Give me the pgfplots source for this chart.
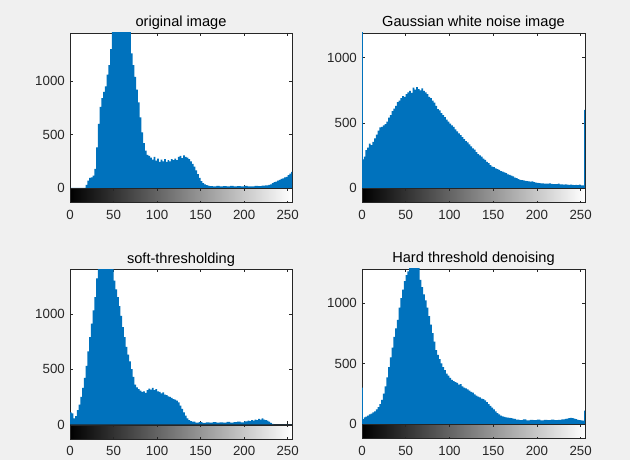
\documentclass[border=0pt]{standalone}
\usepackage{fontspec}
\setmainfont{Liberation Sans}
\usepackage{pgfplots}
\pgfplotsset{compat=1.18}
\usetikzlibrary{calc}

\definecolor{figbg}{RGB}{240,240,240}
\definecolor{histblue}{RGB}{0,114,189}
\definecolor{axgray}{RGB}{38,38,38}

\pgfplotsset{
  histax/.style={
    scale only axis, height=155pt,
    xmin=0, xmax=255, ymin=0,
    axis background/.style={fill=white},
    axis line style={axgray, line width=0.6pt},
    every tick/.style={axgray, line width=0.5pt},
    tick align=inside, major tick length=3pt,
    xtick={0,50,...,250}, xticklabels={},
    ytick={0,500,1000}, yticklabels={0,500,1000},
    yticklabel style={font=\fontsize{13.3}{15}\selectfont, text=axgray, inner sep=0pt, xshift=-5pt},
    title style={font=\fontsize{14.6}{17}\selectfont, at={(0.5,1)}, anchor=base, yshift=0pt, inner sep=0pt},
    colorbar horizontal,
    colormap={bw}{gray(0cm)=(0); gray(1cm)=(1)},
    point meta min=0, point meta max=255,
    colorbar style={
      at={($(parent axis.south west)+(0,8pt)$)}, anchor=north west,
      scale only axis, width=\pgfkeysvalueof{/pgfplots/parent axis width}, height=14pt,
      xtick={0,50,...,250}, xticklabels={0,50,100,150,200,250},
      xticklabel pos=lower,
      xticklabel style={font=\fontsize{13.3}{15}\selectfont, text=axgray, inner sep=0pt, yshift=-7pt, anchor=north},
      axis line style={axgray, line width=0.6pt},
      every tick/.style={axgray, line width=0.5pt},
      tick align=inside, major tick length=2pt,
    },
  },
  hist/.style={draw=none, fill=histblue, const plot},
}

\begin{document}
\begin{tikzpicture}
\fill[figbg] (0,0) rectangle (630pt,460pt);

% original image
\begin{axis}[histax, at={(70pt,272pt)}, anchor=south west, width=222pt,
  ymax=1450, title={original image}]
\addplot[hist] table {
0 0
18 30
20 70
22 95
24 100
26 115
28 180
30 380
32 600
34 760
36 840
38 900
40 950
42 1060
44 1150
46 1300
48 1500
70 1260
72 1150
74 1040
76 920
78 800
80 660
82 520
84 420
86 350
88 310
90 300
92 285
94 265
96 290
98 255
100 275
102 245
104 265
106 250
108 270
110 245
112 260
114 250
116 270
118 260
120 275
122 260
124 290
126 300
128 280
130 305
132 290
134 285
136 270
138 250
140 225
142 200
144 165
146 130
148 95
150 65
152 45
154 35
156 28
158 22
160 18
164 15
168 20
172 14
176 18
180 15
184 20
188 14
192 17
196 15
200 19
204 14
208 16
212 20
216 17
220 22
224 25
228 30
230 35
232 45
234 55
236 60
238 70
240 75
242 85
244 90
246 100
248 105
250 120
252 135
254 150
256 150
} \closedcycle;
\end{axis}

% Gaussian white noise image
\begin{axis}[histax, at={(362pt,272pt)}, anchor=south west, width=223pt,
  ymax=1190, title={Gaussian white noise image}]
\addplot[hist] table {
0 1300
1 220
2 240
4 290
6 310
8 340
10 330
12 355
14 380
16 410
18 440
20 465
22 470
24 480
26 490
28 510
30 540
32 560
34 590
36 610
38 630
40 660
42 670
44 690
46 705
48 700
50 720
52 735
54 745
56 730
58 770
60 755
62 775
64 760
66 750
68 765
70 745
72 735
74 720
76 700
78 690
80 670
82 655
84 630
86 605
88 595
90 575
92 560
94 545
96 525
98 510
100 495
102 480
104 470
106 450
108 435
110 420
112 405
114 390
116 375
118 360
120 350
122 335
124 320
126 305
128 295
130 275
132 260
134 250
136 240
138 225
140 215
142 200
144 190
146 175
148 165
150 160
152 150
154 145
156 140
158 130
160 125
162 120
164 115
166 105
168 100
170 95
172 90
174 80
176 75
178 68
180 62
182 60
184 58
186 55
188 52
190 50
192 48
194 50
196 45
198 42
200 40
202 38
204 36
206 35
208 34
210 33
212 33
214 36
216 32
218 30
220 30
222 29
224 33
226 28
228 27
230 26
232 28
234 25
236 24
238 25
240 23
242 22
244 24
246 22
248 25
250 20
252 20
254 600
256 600
} \closedcycle;
\end{axis}

% soft-thresholding
\begin{axis}[histax, at={(70pt,35.5pt)}, anchor=south west, width=222pt,
  ymax=1400, title={soft-thresholding}]
\addplot[hist] table {
0 110
2 100
4 55
6 75
8 130
10 180
12 250
14 330
16 420
18 530
20 660
22 790
24 910
26 1030
28 1150
30 1320
32 1500
50 1300
52 1220
54 1150
56 1070
58 980
60 880
62 790
64 700
66 630
68 570
70 500
72 430
74 360
76 335
78 320
80 305
82 295
84 300
86 285
88 310
90 325
92 315
94 330
96 310
98 320
100 300
102 295
104 280
106 290
108 270
110 265
112 255
114 250
116 240
118 230
120 225
122 215
124 200
126 170
128 140
130 110
132 80
134 55
136 40
138 30
140 25
144 18
148 22
152 15
156 20
160 17
164 22
168 16
172 20
176 18
180 23
184 17
188 22
192 25
196 20
200 28
204 35
206 30
208 40
210 35
212 45
214 40
216 50
218 45
220 55
222 45
224 40
226 35
228 25
230 15
232 5
234 0
256 0
} \closedcycle;
\end{axis}

% Hard threshold denoising
\begin{axis}[histax, at={(362pt,36pt)}, anchor=south west, width=223pt,
  ymax=1280, title={Hard threshold denoising}]
\addplot[hist] table {
0 300
1 40
2 55
4 60
6 70
8 80
10 85
12 95
14 105
16 120
18 140
20 165
22 200
24 250
26 310
28 385
30 470
32 550
34 630
36 720
38 790
40 860
42 960
44 1040
46 1110
48 1180
50 1230
52 1260
54 1300
66 1190
68 1130
70 1070
72 1020
74 960
76 890
78 820
80 750
82 680
84 610
86 570
88 535
90 500
92 470
94 445
96 415
98 400
100 380
102 365
104 355
106 345
108 340
110 325
112 330
114 310
116 300
118 295
120 285
122 275
124 265
126 260
128 245
130 235
132 225
134 220
136 210
138 205
140 195
142 180
144 165
146 150
148 135
150 120
152 105
154 90
156 80
158 70
160 62
162 58
164 55
166 52
168 50
170 48
172 45
174 42
176 36
180 32
184 38
188 30
192 34
196 31
200 36
204 30
208 33
212 31
216 36
220 32
224 35
228 38
232 42
234 45
236 48
238 50
240 48
242 45
244 40
246 35
248 32
250 30
252 28
254 110
256 110
} \closedcycle;
\end{axis}

\pgfresetboundingbox
\path[use as bounding box] (0,0) rectangle (630pt,460pt);
\end{tikzpicture}
\end{document}
